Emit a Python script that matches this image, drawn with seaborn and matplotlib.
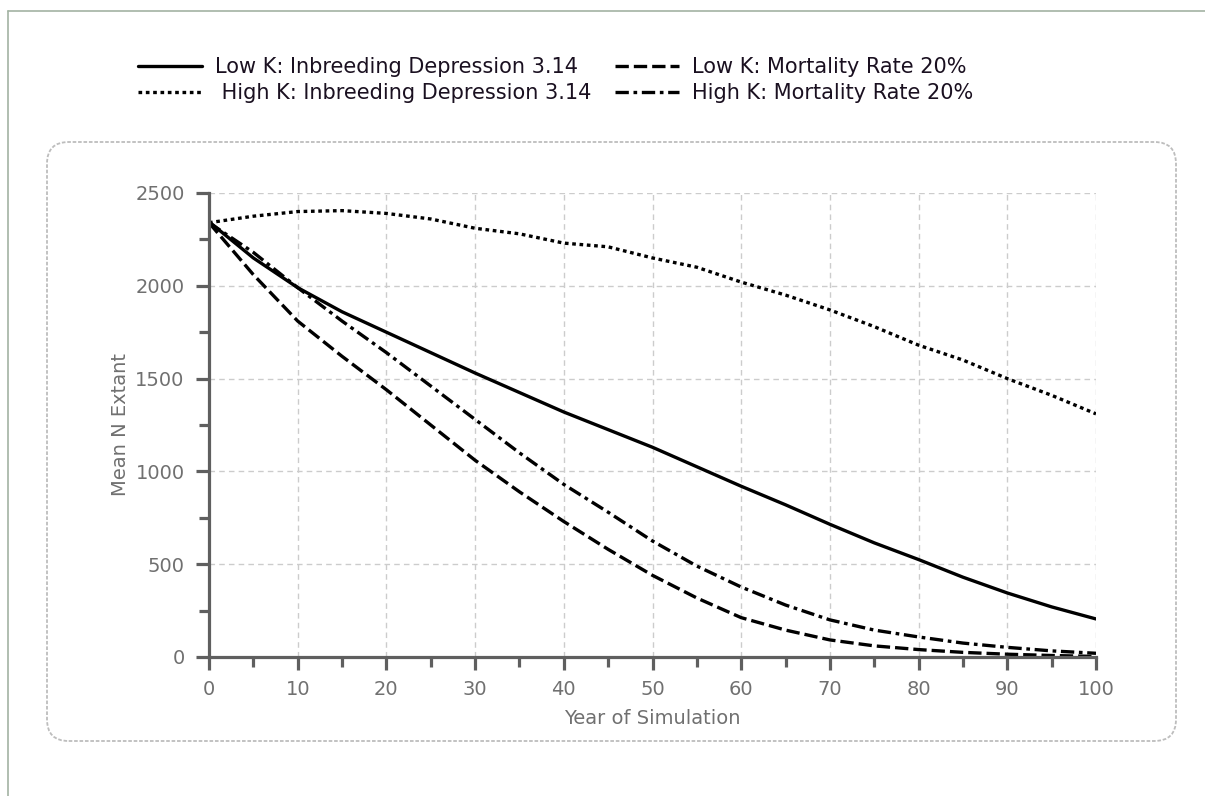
import matplotlib
matplotlib.use("Agg")
import matplotlib.pyplot as plt
import seaborn as sns
from matplotlib.patches import FancyBboxPatch
from matplotlib.lines import Line2D
from matplotlib.ticker import MultipleLocator

years = [0, 5, 10, 15, 20, 25, 30, 35, 40, 45, 50, 55, 60, 65, 70, 75, 80, 85, 90, 95, 100]
low_k_id = [2345, 2150, 1990, 1860, 1750, 1640, 1530, 1425, 1320, 1225, 1130, 1025, 920, 820, 715, 615, 525, 430, 345, 270, 205]
high_k_id = [2340, 2375, 2400, 2405, 2390, 2360, 2310, 2280, 2230, 2210, 2150, 2100, 2020, 1950, 1870, 1780, 1680, 1600, 1500, 1410, 1310]
low_k_mort = [2340, 2060, 1810, 1620, 1440, 1250, 1060, 890, 730, 580, 440, 318, 212, 145, 92, 60, 40, 25, 15, 8, 3]
high_k_mort = [2340, 2180, 1990, 1810, 1640, 1460, 1280, 1100, 930, 780, 625, 490, 377, 280, 200, 145, 108, 75, 52, 33, 20]

labels = ["Low K: Inbreeding Depression 3.14", " High K: Inbreeding Depression 3.14",
          "Low K: Mortality Rate 20%", "High K: Mortality Rate 20%"]
series = [low_k_id, high_k_id, low_k_mort, high_k_mort]
styles = ["-", (0, (1.1, 1.1)), (0, (4, 1.5)), (0, (4, 1.4, 1.1, 1.4))]

sns.set_style("white")
plt.rcParams["font.family"] = ["DejaVu Sans"]

fig = plt.figure(figsize=(12.05, 7.96), dpi=100)
W, H = 1205, 796

# outer border
b1 = Line2D([8 / W, 8 / W], [0, 1 - 11 / H], color="#a3b3a3", lw=1.2, zorder=-2)
b2 = Line2D([8 / W, 1], [1 - 11 / H, 1 - 11 / H], color="#a3b3a3", lw=1.2, zorder=-2)
fig.add_artist(b1)
fig.add_artist(b2)

# rounded panel
x0, x1, y0, y1 = 47, 1176, 142, 741
panel = FancyBboxPatch((x0 / W, 1 - y1 / H), (x1 - x0) / W, (y1 - y0) / H,
                       boxstyle="round,pad=0,rounding_size=0.018",
                       transform=fig.transFigure, facecolor="white",
                       edgecolor="#bdbdbd", lw=1.3, linestyle=(0, (2, 1)),
                       mutation_aspect=W / H, zorder=-1)
fig.add_artist(panel)

ax = fig.add_axes([209 / W, 1 - 657 / H, (1096 - 209) / W, (657 - 193) / H])
ax.set_facecolor("none")

for lab, vals, ls in zip(labels, series, styles):
    sns.lineplot(x=years, y=vals, ax=ax, color="black", label=lab)
    ln = ax.lines[-1]
    ln.set_linestyle(ls)
    ln.set_linewidth(2.4)
    ln.set_dash_capstyle("butt")

ax.set_xlim(0, 100)
ax.set_ylim(0, 2500)
ax.xaxis.set_major_locator(MultipleLocator(10))
ax.xaxis.set_minor_locator(MultipleLocator(5))
ax.yaxis.set_major_locator(MultipleLocator(500))
ax.yaxis.set_minor_locator(MultipleLocator(250))

for s in ["top", "right"]:
    ax.spines[s].set_visible(False)
for s in ["left", "bottom"]:
    ax.spines[s].set_color("#5f5f5f")
    ax.spines[s].set_linewidth(2.3)

ax.tick_params(which="major", direction="out", length=9.5, width=2.3, color="#5f5f5f",
               labelsize=14, labelcolor="#707070")
ax.tick_params(which="minor", direction="out", length=7, width=2.3, color="#5f5f5f")
ax.tick_params(axis="x", which="both", bottom=True)
ax.tick_params(axis="x", which="major", pad=7)
ax.tick_params(axis="y", which="both", left=True)
ax.tick_params(axis="y", which="major", pad=8)

ax.grid(True, which="major", color="#cccccc", linestyle=(0, (4, 3)), linewidth=1.0)
ax.set_axisbelow(True)

ax.set_xlabel("Year of Simulation", fontsize=14, color="#707070", labelpad=7)
ax.set_ylabel("Mean N Extant", fontsize=14, color="#707070", labelpad=4)

handles = ax.lines[:4]
ax.legend(handles, labels, ncol=2, loc="upper left",
          bbox_to_anchor=(138 / W, 1 - 57 / H), bbox_transform=fig.transFigure,
          frameon=False, fontsize=15, handlelength=3.05, handletextpad=0.65,
          columnspacing=1.15, labelspacing=0.3, borderaxespad=0, borderpad=0)
for t in ax.get_legend().get_texts():
    t.set_color("#1a1020")

fig.savefig("out.png", dpi=100)
